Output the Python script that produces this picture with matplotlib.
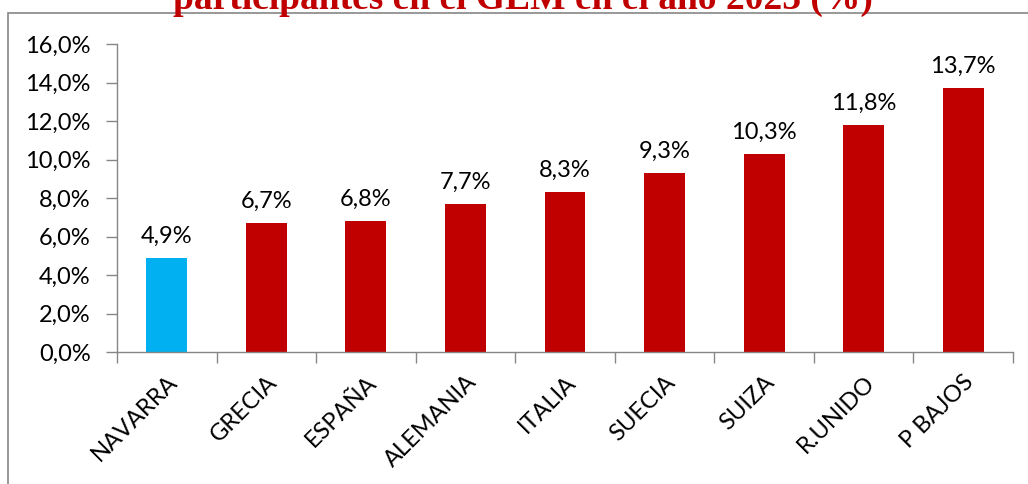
import matplotlib
matplotlib.use("Agg")
import matplotlib.pyplot as plt
from matplotlib.patches import Rectangle
from matplotlib.ticker import FuncFormatter, FixedLocator

categories = ["NAVARRA", "GRECIA", "ESPAÑA", "ALEMANIA", "ITALIA", "SUECIA", "SUIZA", "R.UNIDO", "P BAJOS"]
values = [4.9, 6.7, 6.8, 7.7, 8.3, 9.3, 10.3, 11.8, 13.7]
colors = ["#00B0F0"] + ["#C00000"] * 8
title_text = "participantes en el GEM en el año 2023 (%)"
yticks = [0, 2, 4, 6, 8, 10, 12, 14, 16]

W, H = 1028, 484
fig = plt.figure(figsize=(W / 100, H / 100), dpi=100)
fig.patch.set_facecolor("white")

# chart border (extends past image on right/bottom)
fig.add_artist(Rectangle((8 / W, -0.1), 1.2, (H - 13) / H + 0.1, transform=fig.transFigure,
                         fill=False, edgecolor="#868686", linewidth=1.2))

ax = fig.add_axes([117 / W, 1 - 352 / H, (1013 - 117) / W, (352 - 44) / H])
x = list(range(len(categories)))
ax.bar(x, values, width=0.41, color=colors, zorder=2)
ax.set_xlim(-0.5, len(categories) - 0.5)
ax.set_ylim(0, 16)
ax.set_yticks(yticks)
ax.yaxis.set_major_formatter(FuncFormatter(lambda v, p: f"{v:.1f}%".replace(".", ",")))

font = "Lato"
fs = 17
for lbl in ax.get_yticklabels():
    lbl.set_fontfamily(font)
    lbl.set_fontsize(fs)

ax.set_xticks(x)
ax.set_xticklabels(categories, rotation=45, ha="right", rotation_mode="anchor",
                   fontfamily=font, fontsize=fs)
ax.tick_params(axis="x", which="major", length=0, pad=14)
ax.xaxis.set_minor_locator(FixedLocator([i - 0.5 for i in range(len(categories) + 1)]))
ax.tick_params(axis="x", which="minor", length=8, color="#868686", width=1)
ax.tick_params(axis="y", length=8, color="#868686", width=1, pad=11)

for s in ["top", "right"]:
    ax.spines[s].set_visible(False)
for s in ["left", "bottom"]:
    ax.spines[s].set_color("#868686")
    ax.spines[s].set_linewidth(1)

for xi, v in zip(x, values):
    ax.annotate(f"{v:.1f}%".replace(".", ","), (xi, v), xytext=(0, 8), textcoords="offset points",
                ha="center", va="bottom", fontfamily=font, fontsize=fs, color="black")

fig.text(0.509, 1 - 9 / H, title_text, ha="center", va="baseline", color="#C00000",
         fontfamily="Liberation Serif", fontweight="bold", fontsize=27)

fig.savefig("out.png", dpi=100, facecolor="white")
